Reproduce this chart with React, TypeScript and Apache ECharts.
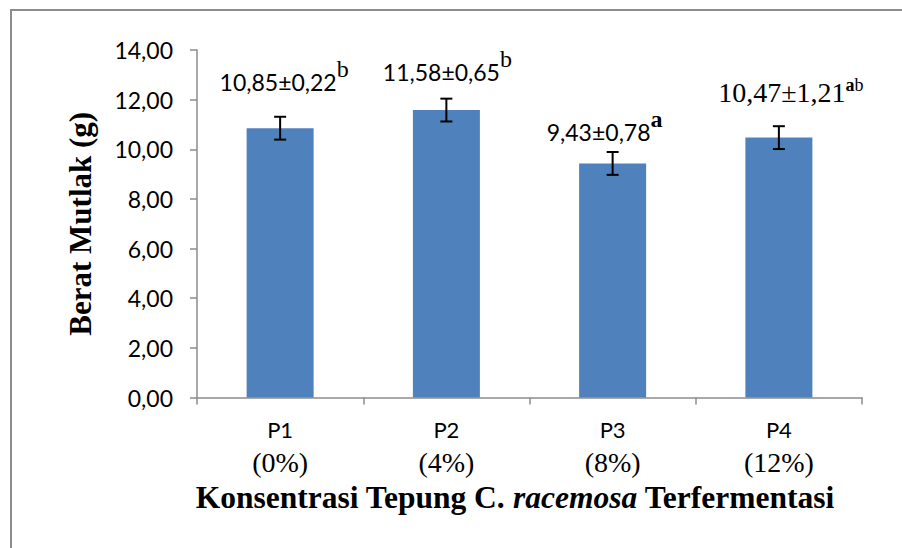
import React, { useEffect, useRef } from "react";
import * as echarts from "echarts";

const categories = ["P1", "P2", "P3", "P4"];
const concentrations = ["(0%)", "(4%)", "(8%)", "(12%)"];
const values = [10.85, 11.58, 9.43, 10.47];
const errors = [0.46, 0.46, 0.46, 0.46];
const labelMain = ["10,85±0,22", "11,58±0,65", "9,43±0,78", "10,47±1,21"];
const labelSup = ["b", "b", "a", "ab"];
const yTicks = [0, 2, 4, 6, 8, 10, 12, 14];

const SANS = "Lato, 'Open Sans', sans-serif";
const SERIF = "'Liberation Serif', 'DejaVu Serif', serif";

export default function App() {
  const ref = useRef<HTMLDivElement>(null);
  useEffect(() => {
    if (!ref.current) return;
    const chart = echarts.init(ref.current, null, { renderer: "svg" });

    const labelOffsets = [
      [4, -30],
      [1, -22],
      [-8, -15],
      [12, -26],
    ];
    const supStyle = (i: number) => (i === 2 ? "sb" : "s");
    const barData = values.map((v, i) => ({
      value: v,
      label: {
        offset: labelOffsets[i],
        formatter:
          i === 3
            ? `{t|${labelMain[i]}}{s2b|${labelSup[i].charAt(0)}}{s2|${labelSup[i].slice(1)}}`
            : `{m|${labelMain[i]}}{${supStyle(i)}|${labelSup[i]}}`,
      },
    }));

    const errData = values.map((v, i) => [i, v - errors[i], v + errors[i]]);

    const option: any = {
      animation: false,
      grid: { left: 197, top: 50, right: 40, bottom: 150.5, containLabel: false },
      xAxis: {
        type: "category",
        data: categories,
        boundaryGap: true,
        axisLine: { show: true, lineStyle: { color: "#8c8c8c", width: 1.5 } },
        axisTick: { show: true, length: 7, lineStyle: { color: "#8c8c8c", width: 1.5 } },
        axisLabel: {
          margin: 17,
          formatter: (v: string, idx: number) => `{p|${v}}\n{q|${concentrations[idx]}}`,
          rich: {
            p: { fontFamily: SANS, fontSize: 22, color: "#000", lineHeight: 30 },
            q: { fontFamily: SERIF, fontSize: 28, color: "#000", lineHeight: 36 },
          },
        },
      },
      yAxis: {
        type: "value",
        min: 0,
        max: 14,
        interval: 2,
        name: "Berat Mutlak (g)",
        nameLocation: "middle",
        nameRotate: 90,
        nameGap: 101,
        nameTextStyle: { fontFamily: SERIF, fontWeight: "bold", fontSize: 31, color: "#000" },
        splitLine: { show: false },
        axisLine: { show: true, lineStyle: { color: "#8c8c8c", width: 1.5 } },
        axisTick: { show: true, length: 7, lineStyle: { color: "#8c8c8c", width: 1.5 } },
        axisLabel: {
          margin: 24,
          fontFamily: SANS,
          fontSize: 23,
          color: "#000",
          formatter: (v: number) => (yTicks.includes(v) ? v.toFixed(2).replace(".", ",") : ""),
        },
      },
      series: [
        {
          type: "bar",
          data: barData,
          barWidth: 67,
          itemStyle: { color: "#4F81BD" },
          label: {
            show: true,
            position: "top",
            distance: 5,
            rich: {
              m: { fontFamily: SANS, fontSize: 23, color: "#000", lineHeight: 36, verticalAlign: "bottom" },
              t: { fontFamily: SERIF, fontSize: 28, color: "#000", lineHeight: 31, verticalAlign: "bottom" },
              s: { fontFamily: SERIF, fontSize: 24, color: "#000", lineHeight: 18, verticalAlign: "top" },
              sb: { fontFamily: SERIF, fontSize: 24, fontWeight: "bold", color: "#000", lineHeight: 26, verticalAlign: "top" },
              s2: { fontFamily: SERIF, fontSize: 18, color: "#000", lineHeight: 16, verticalAlign: "top" },
              s2b: { fontFamily: SERIF, fontSize: 18, fontWeight: "bold", color: "#000", lineHeight: 16, verticalAlign: "top" },
            },
          },
        },
        {
          type: "custom",
          data: errData,
          z: 5,
          renderItem: (params: any, api: any) => {
            const x = api.value(0);
            const lo = api.coord([x, api.value(1)]);
            const hi = api.coord([x, api.value(2)]);
            const w = 6;
            const st = { stroke: "#000", lineWidth: 2 };
            return {
              type: "group",
              children: [
                { type: "line", shape: { x1: lo[0], y1: lo[1], x2: hi[0], y2: hi[1] }, style: st },
                { type: "line", shape: { x1: lo[0] - w, y1: lo[1], x2: lo[0] + w, y2: lo[1] }, style: st },
                { type: "line", shape: { x1: hi[0] - w, y1: hi[1], x2: hi[0] + w, y2: hi[1] }, style: st },
              ],
            };
          },
        },
      ],
      graphic: [
        {
          type: "rect",
          x: 11,
          y: 10,
          shape: { width: 1000, height: 1000 },
          style: { fill: "none", stroke: "#8c8c8c", lineWidth: 2 },
          silent: true,
          z: -10,
        },
        {
          type: "text",
          x: 515,
          y: 497,
          style: {
            text: "{b|Konsentrasi Tepung C. }{i|racemosa}{b| Terfermentasi}",
            align: "center",
            verticalAlign: "middle",
            rich: {
              b: { fontFamily: SERIF, fontWeight: "bold", fontSize: 31.5, fill: "#000", color: "#000" },
              i: { fontFamily: SERIF, fontWeight: "bold", fontStyle: "italic", fontSize: 31.5, fill: "#000", color: "#000" },
            },
          },
        },
      ],
    };
    chart.setOption(option);
    return () => chart.dispose();
  }, []);
  return (
    <div
      ref={ref}
      style={{ position: "fixed", left: 0, top: 0, width: 902, height: 548, background: "#fff" }}
    />
  );
}
